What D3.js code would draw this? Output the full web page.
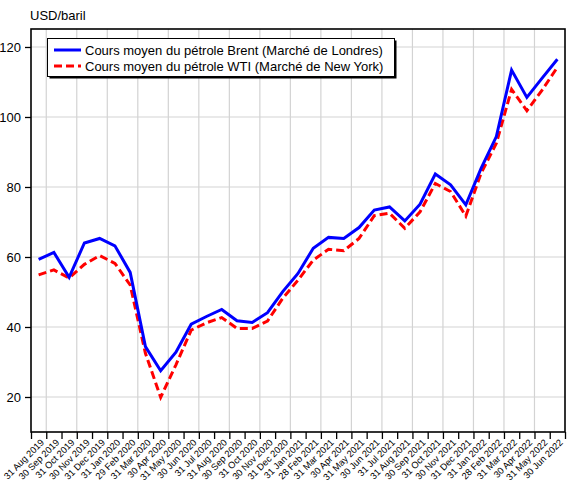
<!DOCTYPE html>
<html>
<head>
<meta charset="utf-8">
<script src="https://cdn.jsdelivr.net/npm/d3@7"></script>
<style>
  body { margin: 0; background: #fff; }
  svg { display: block; font-family: "Liberation Sans", Arial, sans-serif; }
</style>
</head>
<body>
<svg id="chart" width="575" height="486"></svg>
<script>
// month-end labels, Aug 2019 .. Jun 2022
const months = [
  '31 Aug 2019', '30 Sep 2019', '31 Oct 2019', '30 Nov 2019', '31 Dec 2019',
  '31 Jan 2020', '29 Feb 2020', '31 Mar 2020', '30 Apr 2020', '31 May 2020',
  '30 Jun 2020', '31 Jul 2020', '31 Aug 2020', '30 Sep 2020', '31 Oct 2020',
  '30 Nov 2020', '31 Dec 2020', '31 Jan 2021', '28 Feb 2021', '31 Mar 2021',
  '30 Apr 2021', '31 May 2021', '30 Jun 2021', '31 Jul 2021', '31 Aug 2021',
  '30 Sep 2021', '31 Oct 2021', '30 Nov 2021', '31 Dec 2021', '31 Jan 2022',
  '28 Feb 2022', '31 Mar 2022', '30 Apr 2022', '31 May 2022', '30 Jun 2022'
];

const brent = [
  59.3, 61.3, 54.2, 64.0, 65.3, 63.2, 55.6, 34.4, 27.5, 32.8,
  40.8, 43.0, 45.0, 41.8, 41.3, 44.1, 50.1, 55.3, 62.5, 65.6,
  65.3, 68.4, 73.4, 74.3, 70.3, 75.1, 83.7, 80.6, 74.9, 85.3,
  94.4, 113.4, 105.6, 111.1, 116.5
];

const wti = [
  54.9, 56.3, 54.0, 57.9, 60.4, 58.2, 52.0, 32.5, 19.9, 29.2,
  39.1, 41.2, 42.7, 39.6, 39.6, 41.7, 48.2, 53.4, 59.1, 62.2,
  61.8, 65.3, 71.8, 72.5, 68.2, 72.9, 81.0, 78.7, 71.7, 83.9,
  92.5, 107.9, 101.8, 107.7, 114.2
];

const yTicks = [20, 40, 60, 80, 100, 120];

const legendLabels = [
  'Cours moyen du pétrole Brent (Marché de Londres)',
  'Cours moyen du pétrole WTI (Marché de New York)'
];

const margin = { top: 29, right: 10, bottom: 54, left: 31 };
const width = 575, height = 486;
const svg = d3.select('#chart');

const x = d3.scaleBand()
  .domain(months)
  .range([margin.left, width - margin.right])
  .padding(0);

// band edges, used for the ticks and vertical grid
const xEdge = d3.scaleLinear()
  .domain([0, months.length])
  .range([margin.left, width - margin.right]);

const y = d3.scaleLinear()
  .domain([10, 125.14])
  .range([height - margin.bottom, margin.top]);

const cx = d => x(d) + x.bandwidth() / 2;

// grid
const grid = svg.append('g').attr('stroke', '#d3d3d3').attr('stroke-width', 1.2);
grid.selectAll('line.v')
  .data(d3.range(1, months.length, 2))
  .join('line')
  .attr('class', 'v')
  .attr('x1', d => xEdge(d)).attr('x2', d => xEdge(d))
  .attr('y1', margin.top).attr('y2', height - margin.bottom);
grid.selectAll('line.h')
  .data(yTicks)
  .join('line')
  .attr('class', 'h')
  .attr('x1', margin.left).attr('x2', width - margin.right)
  .attr('y1', d => y(d)).attr('y2', d => y(d));

// axes
const yAxis = svg.append('g')
  .attr('transform', `translate(${margin.left},0)`)
  .call(d3.axisLeft(y).tickValues(yTicks).tickSize(6).tickPadding(4).tickSizeOuter(0));
yAxis.select('.domain').remove();
yAxis.selectAll('text').attr('font-size', 13).attr('fill', '#000')
  .attr('font-family', '"Liberation Sans", Arial, sans-serif');
yAxis.selectAll('line').attr('stroke-width', 1.3);

const xAxis = svg.append('g')
  .attr('transform', `translate(0,${height - margin.bottom})`)
  .call(d3.axisBottom(xEdge).tickValues(d3.range(0, months.length + 1)).tickFormat('').tickSize(7).tickSizeOuter(0));
xAxis.select('.domain').remove();
xAxis.selectAll('line').attr('stroke-width', 1.3);

svg.append('g')
  .selectAll('text')
  .data(months)
  .join('text')
  .attr('transform', d => `translate(${cx(d) + 6},${height - margin.bottom + 11}) rotate(-45)`)
  .attr('text-anchor', 'end')
  .attr('font-size', 9.3)
  .text(d => d);

// frame
svg.append('rect')
  .attr('x', margin.left).attr('y', margin.top)
  .attr('width', width - margin.left - margin.right)
  .attr('height', height - margin.top - margin.bottom)
  .attr('fill', 'none').attr('stroke', '#000').attr('stroke-width', 1.6);

svg.append('text')
  .attr('x', 30).attr('y', 20)
  .attr('font-size', 13)
  .text('USD/baril');

// lines
const line = d3.line()
  .x((d, i) => cx(months[i]))
  .y(d => y(d));

svg.append('path')
  .datum(wti)
  .attr('fill', 'none')
  .attr('stroke', '#ff0000')
  .attr('stroke-width', 3)
  .attr('stroke-dasharray', '8,4')
  .attr('d', line);

svg.append('path')
  .datum(brent)
  .attr('fill', 'none')
  .attr('stroke', '#0000ff')
  .attr('stroke-width', 3)
  .attr('stroke-linejoin', 'miter')
  .attr('d', line);

// legend
const lg = svg.append('g');
lg.append('rect')
  .attr('x', 49.5).attr('y', 40.5).attr('width', 347).attr('height', 38)
  .attr('fill', '#000');
lg.append('rect')
  .attr('x', 47.5).attr('y', 38.5).attr('width', 347).attr('height', 38)
  .attr('fill', '#fff').attr('stroke', '#000').attr('stroke-width', 1);

const legendColors = ['#0000ff', '#ff0000'];
const legendDash = [null, '8,4'];
legendLabels.forEach((t, i) => {
  const yy = 50 + i * 16;
  lg.append('line')
    .attr('x1', 54).attr('x2', 81).attr('y1', yy).attr('y2', yy)
    .attr('stroke', legendColors[i]).attr('stroke-width', 3)
    .attr('stroke-dasharray', legendDash[i]);
  lg.append('text')
    .attr('x', 85).attr('y', yy + 4.5)
    .attr('font-size', 13)
    .text(t);
});
</script>
</body>
</html>
